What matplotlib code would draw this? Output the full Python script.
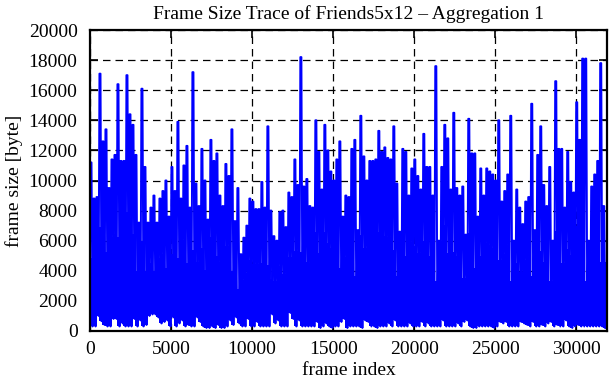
import numpy as np
import matplotlib
matplotlib.use("Agg")
from matplotlib import pyplot as plt

plt.rcParams["font.family"] = ["Liberation Serif", "DejaVu Serif"]

# peak frame size (byte) in each block of ~185 frames
peak_a = [11200, 8800, 8900, 17100, 12600, 13400, 9500, 11400, 11700, 16400, 11300, 11300,
          17000, 14400, 13700, 11700, 7200, 16100, 10900, 7200, 8200, 9000, 7200, 8800]
peak_b = [9300, 10000, 7600, 10900, 9300, 13900, 8800, 11000, 12300, 8200, 17200, 9800, 8300,
          12100, 10000, 7400, 12700, 11300, 11800, 9000, 8300, 11100, 10300, 13400, 7300]
peak_c = [9500, 5100, 6200, 7000, 8800, 8600, 8100, 8100, 9900, 8200, 13600, 8000, 6300,
          6000, 7900, 8000, 6900, 9200, 8900, 11400, 9700, 18200, 9600, 10100, 8300]
peak_d = [8200, 14000, 11900, 9400, 13700, 12000, 10600, 10000, 11400, 12600, 7600, 9000, 8900,
          12100, 12700, 6700, 14300, 11600, 10000, 11300, 11300, 11400, 13300, 11900, 12200]
peak_e = [11500, 11400, 13600, 9800, 6600, 12100, 11900, 9000, 10800, 11400, 10300, 9400, 13100,
          10900, 10900, 9000, 17600, 6000, 10900, 13700, 12800, 9400, 14500, 9500, 9000]
peak_f = [9600, 6400, 14100, 11800, 11800, 7600, 10800, 9000, 10800, 10600, 10400, 10000, 14000,
          8600, 9300, 10400, 14300, 6000, 9400, 8200, 7100, 8600, 8900, 15100, 6700]
peak_g = [11700, 13600, 9700, 8300, 10900, 6000, 16600, 12100, 12100, 8200, 11900, 9900,
          9200, 15200, 12700, 18100, 18100, 6000, 9600, 10400, 11300, 17800, 8300]

# smallest frame size in each block
low_a = [300, 300, 1000, 650, 400, 300, 300, 800, 800, 300, 500, 300,
         300, 300, 800, 300, 700, 300, 400, 1000, 1100, 1100, 900, 500]
low_b = [600, 700, 300, 900, 300, 500, 700, 300, 400, 300, 300, 900, 600,
         300, 200, 200, 300, 200, 400, 200, 200, 300, 700, 400, 900]
low_c = [500, 300, 300, 800, 300, 300, 600, 300, 300, 300, 300, 1100, 500,
         700, 300, 300, 300, 1200, 800, 300, 700, 300, 300, 300, 300]
low_d = [300, 600, 200, 300, 500, 300, 200, 300, 300, 600, 800, 200, 300,
         300, 300, 300, 200, 700, 600, 300, 300, 200, 300, 300, 300]
low_e = [500, 300, 700, 300, 300, 300, 300, 500, 300, 300, 300, 600, 300,
         500, 300, 300, 300, 300, 700, 300, 300, 300, 300, 500, 300]
low_f = [600, 700, 300, 200, 200, 300, 300, 300, 300, 300, 200, 300, 600,
         500, 600, 300, 300, 300, 300, 600, 500, 400, 300, 600, 300]
low_g = [300, 400, 300, 500, 600, 300, 400, 300, 300, 700, 300, 200,
         300, 400, 300, 300, 300, 300, 300, 300, 300, 300, 200]

block = 185  # frames per block
peak = np.array(peak_a + peak_b + peak_c + peak_d + peak_e + peak_f + peak_g)
low = np.array(low_a + low_b + low_c + low_d + low_e + low_f + low_g)
start = np.arange(len(peak)) * block

# trace each block: short plateau at the peak, then down to the low value
xs = np.column_stack([start + 0.15 * block, start + 0.5 * block, start + 0.85 * block]).ravel()
ys = np.column_stack([peak, peak, low]).ravel()

# the bulk of frames between neighbouring peaks is densely packed
body = 0.55 * np.minimum(peak, np.append(peak[1:], peak[-1]))

fig = plt.figure(figsize=(6.11, 3.80), dpi=100)
ax = fig.add_axes([0.1473, 0.129, 0.8462, 0.792])

ax.fill_between(np.append(start, start[-1] + block), np.append(low, low[-1]),
                np.append(body, body[-1]), step="post", color="#0000ff",
                linewidth=0, zorder=2)
ax.plot(xs, ys, color="#0000ff", linewidth=1.4, zorder=3)

ax.set_xlim(0, 31900)
ax.set_ylim(0, 20000)
ax.set_xticks(range(0, 30001, 5000))
ax.set_yticks(range(0, 20001, 2000))
ax.set_axisbelow(True)
ax.grid(True, color="black", linestyle=(0, (6, 4)), linewidth=0.9)
ax.tick_params(direction="in", length=6, width=1.2, top=True, right=True,
               labelsize=14)
ax.tick_params(axis="y", pad=9)
ax.tick_params(axis="x", pad=7)
for s in ax.spines.values():
    s.set_linewidth(1.6)
    s.set_zorder(5)

ax.set_title("Frame Size Trace of Friends5x12 \u2013 Aggregation 1", fontsize=14, pad=8)
ax.set_xlabel("frame index", fontsize=14, labelpad=3)
ax.set_ylabel("frame size [byte]", fontsize=14, labelpad=4)

fig.savefig("out.png", dpi=100)
